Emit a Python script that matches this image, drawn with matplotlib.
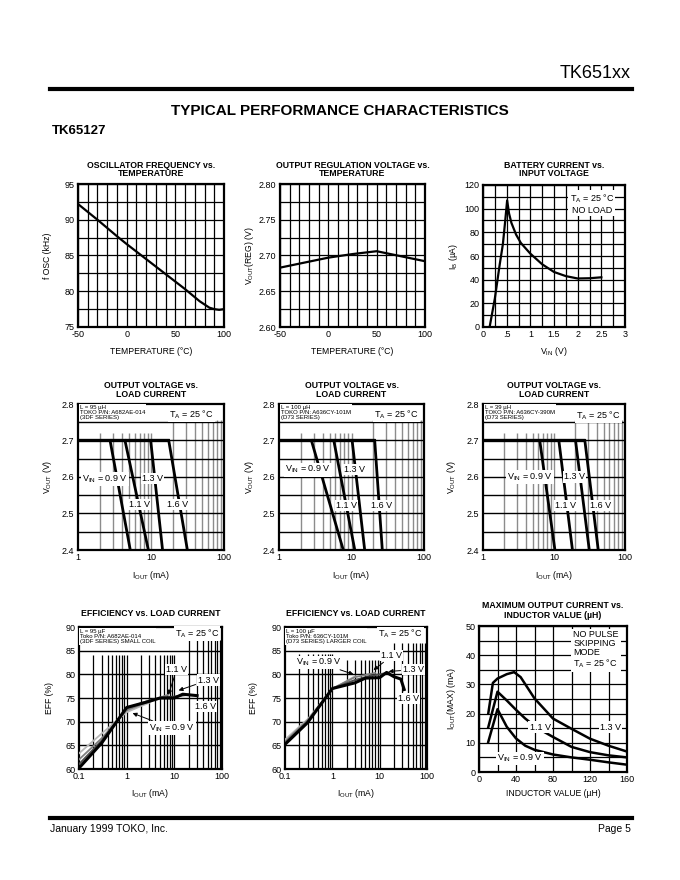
import numpy as np
import matplotlib.pyplot as plt
from matplotlib.lines import Line2D
from matplotlib.ticker import NullLocator

plt.rcParams['font.family'] = ['Liberation Sans', 'DejaVu Sans']
plt.rcParams['mathtext.fontset'] = 'custom'
plt.rcParams['mathtext.rm'] = 'Liberation Sans'
plt.rcParams['mathtext.it'] = 'Liberation Sans:italic'
plt.rcParams['mathtext.bf'] = 'Liberation Sans:bold'
plt.rcParams['mathtext.default'] = 'regular'
plt.rcParams['axes.unicode_minus'] = False

# ---- values ----
osc_temp = [-50, -30, -10, 0, 20, 40, 60, 75, 85, 90, 95, 100]
osc_freq = [92.2, 90.0, 87.7, 86.6, 84.5, 82.4, 80.3, 78.6, 77.7, 77.5, 77.4, 77.5]

reg_temp = [-50, -25, 0, 25, 50, 75, 100]
reg_vout = [2.683, 2.690, 2.697, 2.702, 2.706, 2.699, 2.692]

bat_vin = [0.14, 0.25, 0.35, 0.42, 0.47, 0.51, 0.55, 0.6, 0.7, 0.8, 1.0, 1.25, 1.5, 1.75, 2.0, 2.25, 2.5]
bat_ib = [0, 24, 52, 70, 90, 107, 96, 88, 78, 71, 62, 53, 46.5, 43, 41, 41.2, 42]

# output voltage vs load current: current where each VIN curve leaves 2.7 V and where it reaches 2.4 V
vout_reg = 2.7
vout_min = 2.4
ovl_95_top = [2.75, 4.4, 9.9, 17.5]
ovl_95_bot = [5.2, 9.2, 14.4, 31.5]
ovl_100_top = [2.8, 5.7, 10.2, 20.9]
ovl_100_bot = [7.7, 11.1, 15.2, 26.6]
ovl_39_top = [6.3, 11.7, 20.1, 27.2]
ovl_39_bot = [10.3, 18.2, 31.4, 42.0]

# efficiency vs load current, small coil (95 uH)
eff_s_09_i = [0.1, 0.3, 1, 2, 3]
eff_s_09 = [63.3, 67.5, 72.0, 73.3, 74.0]
eff_s_11_i = [0.1, 0.3, 1, 3, 7.5]
eff_s_11 = [62.0, 66.5, 72.4, 74.3, 75.7]
eff_s_13_i = [0.1, 0.3, 1, 3, 6, 10, 20]
eff_s_13 = [61.0, 66.0, 72.8, 74.5, 75.1, 75.3, 75.7]
eff_s_16_i = [0.1, 0.3, 1, 3, 5, 10, 15, 30]
eff_s_16 = [60.2, 65.5, 73.0, 74.3, 75.0, 75.0, 75.8, 75.5]

# efficiency vs load current, larger coil (100 uH)
eff_l_09_i = [0.1, 0.3, 1, 3]
eff_l_09 = [66.2, 70.5, 76.8, 79.6]
eff_l_11_i = [0.1, 0.3, 1, 3, 8]
eff_l_11 = [65.8, 70.3, 77.0, 79.4, 80.3]
eff_l_13_i = [0.1, 0.3, 1, 3, 6, 10, 16]
eff_l_13 = [65.5, 70.0, 77.0, 78.8, 79.6, 80.0, 80.4]
eff_l_16_i = [0.1, 0.3, 1, 3, 5, 10, 14, 20, 28, 33]
eff_l_16 = [65.2, 69.8, 77.0, 78.2, 79.2, 79.3, 80.4, 79.5, 79.0, 76.8]

# max output current vs inductor value
ind_13 = [10, 15, 20, 30, 38, 45, 60, 80, 100, 120, 140, 160]
imax_13 = [20, 30.5, 32, 33.5, 34.2, 32.5, 25.2, 18.3, 14.8, 11.4, 9.0, 7.0]
ind_11 = [10, 20, 30, 40, 50, 60, 70, 80, 100, 120, 140, 160]
imax_11 = [15.3, 27.5, 24.5, 21.3, 18.3, 15.8, 13.8, 12.0, 8.6, 6.8, 5.7, 5.0]
ind_09 = [10, 20, 25, 30, 40, 50, 60, 80, 100, 120, 140, 160]
imax_09 = [10.3, 21.5, 18.5, 15.5, 11.5, 9.0, 7.6, 6.0, 5.0, 4.2, 3.3, 2.5]

W, H = 680, 880
fig = plt.figure(figsize=(W / 100, H / 100), dpi=100)

BOX = dict(facecolor='white', edgecolor='none', pad=0.8)


def ftext(x, y, s, **kw):
    fig.text(x / W, 1 - y / H, s, **kw)


def hrule(y):
    fig.add_artist(Line2D([50 / W, 632 / W], [1 - y / H, 1 - y / H], color='black', lw=3,
                          transform=fig.transFigure))


def panel(x0, y0, x1, y1, title, xlabel, ylabel, ylab_x, xlab_y, title_y):
    ax = fig.add_axes([x0 / W, 1 - y1 / H, (x1 - x0) / W, (y1 - y0) / H])
    for s in ax.spines.values():
        s.set_linewidth(1.6)
    ax.tick_params(which='both', length=0, labelsize=6.5, pad=2.5)
    cx = (x0 + x1) / 2
    for k, line in enumerate(title):
        ftext(cx, title_y + 9 * k, line, ha='center', va='center', fontsize=6.3, fontweight='bold')
    ftext(cx, xlab_y, xlabel, ha='center', va='center', fontsize=6.2)
    ftext(ylab_x, (y0 + y1) / 2, ylabel, ha='center', va='center', fontsize=6.2, rotation=90)
    return ax


def lin_grid(ax, xmaj, xmin, ymaj, ymin, xlabels=None, ylabels=None):
    ax.set_xticks(xmaj)
    ax.set_xticks(xmin, minor=True)
    ax.set_yticks(ymaj)
    ax.set_yticks(ymin, minor=True)
    if xlabels is not None:
        ax.set_xticklabels(xlabels)
    if ylabels is not None:
        ax.set_yticklabels(ylabels)
    ax.grid(True, which='both', color='black', lw=0.9, zorder=0)
    ax.set_axisbelow(True)


# ---------------- header / footer ----------------
ftext(631, 73, 'TK651xx', ha='right', va='center', fontsize=13)
hrule(89)
ftext(340, 111, 'TYPICAL PERFORMANCE CHARACTERISTICS', ha='center', va='center',
      fontsize=11, fontweight='bold')
ftext(52, 131, 'TK65127', ha='left', va='center', fontsize=9.5, fontweight='bold')
hrule(818)
ftext(50, 829, 'January 1999 TOKO, Inc.', ha='left', va='center', fontsize=7.5)
ftext(631, 829, 'Page 5', ha='right', va='center', fontsize=7.5)

# ---------------- row 1 ----------------
ax = panel(78, 184, 224, 327, ['OSCILLATOR FREQUENCY vs.', 'TEMPERATURE'],
           'TEMPERATURE (°C)', 'f OSC (kHz)', 48, 351, 165)
ax.set_xlim(-50, 100)
ax.set_ylim(75, 95)
lin_grid(ax, [-50, 0, 50, 100], np.arange(-50, 101, 10), [75, 80, 85, 90, 95], np.arange(75, 96, 2.5))
ax.plot(osc_temp, osc_freq, color='black', lw=1.6)

ax = panel(280, 184, 425, 327, ['OUTPUT REGULATION VOLTAGE vs.', 'TEMPERATURE'],
           'TEMPERATURE (°C)', r'$V_{OUT}$(REG) (V)', 250, 351, 165)
ax.set_xlim(-50, 100)
ax.set_ylim(2.6, 2.8)
lin_grid(ax, [-50, 0, 50, 100], np.arange(-50, 101, 10), [2.6, 2.65, 2.7, 2.75, 2.8],
         np.arange(2.6, 2.801, 0.025), ylabels=['2.60', '2.65', '2.70', '2.75', '2.80'])
ax.plot(reg_temp, reg_vout, color='black', lw=1.6)

ax = panel(483, 185, 625, 327, ['BATTERY CURRENT vs.', 'INPUT VOLTAGE'],
           r'$V_{IN}$ (V)', r'$I_B$ (µA)', 453, 351, 165)
ax.set_xlim(0, 3)
ax.set_ylim(0, 120)
lin_grid(ax, [0, 0.5, 1, 1.5, 2, 2.5, 3], np.arange(0, 3.01, 0.25), np.arange(0, 121, 20),
         np.arange(0, 121, 10), xlabels=['0', '.5', '1', '1.5', '2', '2.5', '3'])
ax.plot(bat_vin, bat_ib, color='black', lw=1.6)
ax.text(2.3, 104, '$T_A$ = 25 °C\nNO LOAD', ha='center', va='center', fontsize=6.5,
        linespacing=1.1, bbox=BOX, zorder=5)

# ---------------- row 2 ----------------
ovl_sets = [
    (78, 224, 48, ovl_95_top, ovl_95_bot, 'L = 95 µH\nTOKO P/N: A682AE-014\n(3DF SERIES)',
     [(2.35, 2.595), (7.0, 2.525), (10.6, 2.595), (23.4, 2.525)], (35.7, 2.771)),
    (279, 424, 250, ovl_100_top, ovl_100_bot, 'L = 100 µH\nTOKO P/N: A636CY-101M\n(D73 SERIES)',
     [(2.5, 2.62), (8.5, 2.523), (11.1, 2.62), (25.8, 2.523)], (41.6, 2.771)),
    (483, 625, 451, ovl_39_top, ovl_39_bot, 'L = 39 µH\nTOKO P/N: A636CY-390M\n(D73 SERIES)',
     [(4.56, 2.6), (14.7, 2.523), (19.7, 2.6), (45.3, 2.523)], (42.0, 2.768)),
]
vin_names = ['$V_{IN}$ = 0.9 V', '1.1 V', '1.3 V', '1.6 V']
for x0, x1, ylx, tops, bots, note, lab_pos, ta_pos in ovl_sets:
    ax = panel(x0, 404, x1, 550, ['OUTPUT VOLTAGE vs.', 'LOAD CURRENT'],
               r'$I_{OUT}$ (mA)', r'$V_{OUT}$ (V)', ylx, 575, 385)
    ax.set_xscale('log')
    ax.set_xlim(1, 100)
    ax.set_ylim(2.4, 2.8)
    ax.set_xticks([1, 10, 100])
    ax.set_xticklabels(['1', '10', '100'])
    ax.xaxis.set_minor_locator(NullLocator())
    ax.set_yticks([2.4, 2.5, 2.6, 2.7, 2.8])
    ax.set_yticklabels(['2.4', '2.5', '2.6', '2.7', '2.8'])
    vx = [m * 10 ** k for k in (0, 1) for m in range(2, 10)] + [10]
    for v in vx:
        ax.vlines(v, 2.4, 2.72 if v < 20 else 2.755, color='0.55', lw=1.0, zorder=1)
    ax.hlines([2.45, 2.5, 2.55, 2.6, 2.65, 2.7, 2.75], 1, 100, color='black', lw=1.0, zorder=1)
    ax.plot([1, max(tops)], [vout_reg, vout_reg], color='black', lw=2.4, zorder=3,
            solid_capstyle='butt')
    for t, b in zip(tops, bots):
        ax.plot([t, b], [vout_reg, vout_min], color='black', lw=2.0, zorder=3)
    for name, (lx, ly) in zip(vin_names, lab_pos):
        ax.text(lx, ly, name, ha='center', va='center', fontsize=6.5, bbox=BOX, zorder=5)
    ax.text(1.06, 2.797, note, ha='left', va='top', fontsize=4.3, linespacing=1.0,
            bbox=dict(facecolor='white', edgecolor='none', pad=0.5), zorder=5)
    ax.text(ta_pos[0], ta_pos[1], '$T_A$ = 25 °C', ha='center', va='center', fontsize=6.5,
            bbox=BOX, zorder=5)

# ---------------- row 3 ----------------
arrow = dict(arrowstyle='-|>', color='black', lw=0.7, mutation_scale=6, shrinkA=1, shrinkB=0)
eff_sets = [
    (79, 222, 50, 'L = 95 µF\nToko P/N: A682AE-014\n(3DF SERIES) SMALL COIL',
     [(eff_s_09_i, eff_s_09, '0.72', 1.3), (eff_s_11_i, eff_s_11, '0.5', 1.3),
      (eff_s_13_i, eff_s_13, '0.3', 1.4), (eff_s_16_i, eff_s_16, 'black', 2.2)],
     (84, 84, 87.2), (29.8, 88.6),
     [('$V_{IN}$ = 0.9 V', (8.9, 68.6), (1.33, 71.8)), ('1.1 V', (11.3, 81.1), (7.5, 75.7)),
      ('1.3 V', (52, 78.8), (12.3, 76.6)), ('1.6 V', (45, 73.2), None)]),
    (285, 427, 253, 'L = 100 µF\nToko P/N: 636CY-101M\n(D73 SERIES) LARGER COIL',
     [(eff_l_09_i, eff_l_09, '0.72', 1.3), (eff_l_11_i, eff_l_11, '0.5', 1.3),
      (eff_l_13_i, eff_l_13, '0.3', 1.4), (eff_l_16_i, eff_l_16, 'black', 2.2)],
     (84.3, 83, 86.7), (27.2, 88.5),
     [('$V_{IN}$ = 0.9 V', (0.51, 82.5), (2.8, 80.0)), ('1.1 V', (18, 83.9), (7.4, 80.9)),
      ('1.3 V', (52, 81.0), (15.5, 80.6)), ('1.6 V', (41, 74.9), None)]),
]
for x0, x1, ylx, note, curves, tops, ta_pos, labels in eff_sets:
    ax = panel(x0, 627, x1, 769, ['EFFICIENCY vs. LOAD CURRENT'],
               r'$I_{OUT}$ (mA)', 'EFF (%)', ylx, 793, 613)
    ax.set_xscale('log')
    ax.set_xlim(0.1, 100)
    ax.set_ylim(60, 90)
    ax.set_xticks([0.1, 1, 10, 100])
    ax.set_xticklabels(['0.1', '1', '10', '100'])
    ax.xaxis.set_minor_locator(NullLocator())
    ax.set_yticks(np.arange(60, 91, 5))
    for k, top in zip((-1, 0, 1), tops):
        vx = [m * 10 ** k for m in range(2, 10)] + ([10 ** (k + 1)] if k < 1 else [])
        ax.vlines(vx, 60, top, color='black', lw=0.9, zorder=1)
    ax.hlines([65, 70, 75, 80, 85], 0.1, 100, color='black', lw=1.0, zorder=1)
    for xi, yi, c, lw in curves:
        ax.plot(xi, yi, color=c, lw=lw, zorder=3)
    for name, tpos, tip in labels:
        if tip is None:
            ax.text(tpos[0], tpos[1], name, ha='center', va='center', fontsize=6.5,
                    bbox=BOX, zorder=5)
        else:
            ax.annotate(name, xy=tip, xytext=tpos, ha='center', va='center', fontsize=6.5,
                        bbox=BOX, arrowprops=arrow, zorder=5)
    ax.text(0.105, 89.6, note, ha='left', va='top', fontsize=4.3, linespacing=1.0,
            bbox=dict(facecolor='white', edgecolor='none', pad=0.5), zorder=5)
    ax.text(ta_pos[0], ta_pos[1], '$T_A$ = 25 °C', ha='center', va='center', fontsize=6.5,
            bbox=BOX, zorder=5)

ax = panel(479, 626, 627, 772, ['MAXIMUM OUTPUT CURRENT vs.', 'INDUCTOR VALUE (µH)'],
           'INDUCTOR VALUE (µH)', r'$I_{OUT}$(MAX) (mA)', 452, 793, 606)
ax.set_xlim(0, 160)
ax.set_ylim(0, 50)
lin_grid(ax, [0, 40, 80, 120, 160], np.arange(0, 161, 20), np.arange(0, 51, 10), np.arange(0, 51, 5))
for xi, yi in [(ind_13, imax_13), (ind_11, imax_11), (ind_09, imax_09)]:
    ax.plot(xi, yi, color='black', lw=1.8, zorder=3)
ax.text(66, 15.4, '1.1 V', ha='center', va='center', fontsize=6.5, bbox=BOX, zorder=5)
ax.text(142, 15.4, '1.3 V', ha='center', va='center', fontsize=6.5, bbox=BOX, zorder=5)
ax.text(44, 4.6, '$V_{IN}$ = 0.9 V', ha='center', va='center', fontsize=6.5, bbox=BOX, zorder=5)
ax.text(102, 48.8, 'NO PULSE\nSKIPPING\nMODE\n$T_A$ = 25 °C', ha='left', va='top', fontsize=6.5,
        linespacing=1.05, bbox=dict(facecolor='white', edgecolor='none', pad=1.5), zorder=5)

fig.savefig('out.png', dpi=100, facecolor='white')
